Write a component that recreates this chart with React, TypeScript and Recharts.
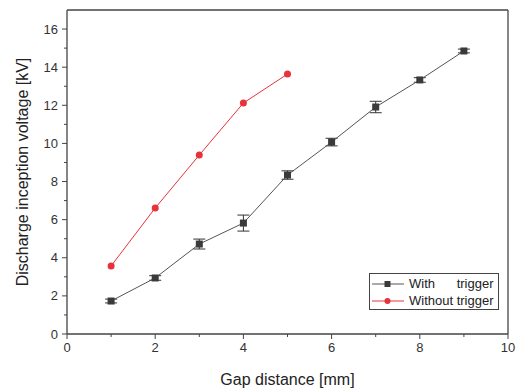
import { ErrorBar, Line, LineChart, XAxis, YAxis } from 'recharts'

const gapWith = [1, 2, 3, 4, 5, 6, 7, 8, 9]
const voltageWith = [1.73, 2.94, 4.72, 5.82, 8.34, 10.07, 11.91, 13.33, 14.85]
const errorWith = [0.1, 0.12, 0.26, 0.42, 0.22, 0.2, 0.3, 0.12, 0.1]
const gapWithout = [1, 2, 3, 4, 5]
const voltageWithout = [3.57, 6.61, 9.39, 12.12, 13.64]
const xTicks = [0, 1, 2, 3, 4, 5, 6, 7, 8, 9, 10]
const yTicks = [0, 1, 2, 3, 4, 5, 6, 7, 8, 9, 10, 11, 12, 13, 14, 15, 16]

const withData = gapWith.map((g, i) => ({ gap: g, v: voltageWith[i], err: errorWith[i] }))
const withoutData = gapWithout.map((g, i) => ({ gap: g, v: voltageWithout[i] }))

const FONT = '"Liberation Sans", Arial, sans-serif'
const AXIS = '#444'
const RED = '#e8323c'

function BottomTick({ x, y, payload }: any) {
  const major = payload.value % 2 === 0
  return (
    <g>
      <line x1={x} x2={x} y1={y} y2={y + (major ? 5 : 3)} stroke={AXIS} />
      {major && (
        <text x={x} y={y + 18} textAnchor="middle" fontSize={13} fill="#333" fontFamily={FONT}>
          {payload.value}
        </text>
      )}
    </g>
  )
}

function LeftTick({ x, y, payload }: any) {
  const major = payload.value % 2 === 0
  return (
    <g>
      <line x1={x - (major ? 5 : 3)} x2={x} y1={y} y2={y} stroke={AXIS} />
      {major && (
        <text x={x - 9} y={y + 4.5} textAnchor="end" fontSize={13} fill="#333" fontFamily={FONT}>
          {payload.value}
        </text>
      )}
    </g>
  )
}

function TopTick({ x, y }: any) {
  return <line x1={x} x2={x} y1={y} y2={y + 3} stroke={AXIS} />
}

function RightTick({ x, y }: any) {
  return <line x1={x - 3} x2={x + 1} y1={y} y2={y} stroke={AXIS} />
}

function YTitle({ viewBox }: any) {
  const cy = viewBox.y + viewBox.height / 2
  return (
    <text
      x={22}
      y={cy}
      transform={`rotate(-90 22 ${cy})`}
      textAnchor="middle"
      dominantBaseline="central"
      fontSize={16}
      fill="#222"
      fontFamily={FONT}
    >
      Discharge inception voltage [kV]
    </text>
  )
}

function SquareDot({ cx, cy, index }: any) {
  return <rect key={index} x={cx - 3.5} y={cy - 3.5} width={7} height={7} fill="#3a3a3a" />
}

function CircleDot({ cx, cy, index }: any) {
  return <circle key={index} cx={cx} cy={cy} r={3.5} fill={RED} />
}

function LegendBox() {
  const row = (label: string, color: string, square: boolean) => (
    <div style={{ display: 'flex', alignItems: 'center', height: 17 }}>
      <svg width={36} height={14}>
        <line x1={2} x2={34} y1={7} y2={7} stroke={color} />
        {square ? <rect x={14.5} y={4} width={6} height={6} fill="#3a3a3a" /> : <circle cx={17.5} cy={7} r={3} fill={RED} />}
      </svg>
      <span style={{ whiteSpace: 'pre', marginLeft: 3 }}>{label}</span>
    </div>
  )
  return (
    <div
      style={{
        position: 'absolute',
        left: 369,
        top: 273,
        width: 130,
        height: 37,
        border: `1px solid ${AXIS}`,
        background: '#fff',
        fontFamily: FONT,
        fontSize: 13,
        color: '#222',
        padding: '1px 0',
        boxSizing: 'border-box',
      }}
    >
      {row('With      trigger', '#555', true)}
      {row('Without trigger', RED, false)}
    </div>
  )
}

export default function App() {
  return (
    <div style={{ position: 'absolute', left: 0, top: 0, width: 518, height: 389, background: '#fff' }}>
      <LineChart width={518} height={389} margin={{ top: 9, right: 9, left: 0, bottom: 0 }}>
        <XAxis
          xAxisId="bottom"
          dataKey="gap"
          type="number"
          domain={[0, 10]}
          ticks={xTicks}
          interval={0}
          height={55}
          tickSize={0}
          tickMargin={0}
          tick={<BottomTick />}
          stroke={AXIS}
          strokeWidth={1.3}
          allowDuplicatedCategory={false}
          label={{ value: 'Gap distance [mm]', position: 'insideBottom', offset: 4, fontSize: 16, fill: '#222', fontFamily: FONT }}
        />
        <XAxis
          xAxisId="top"
          orientation="top"
          dataKey="gap"
          type="number"
          domain={[0, 10]}
          ticks={xTicks}
          interval={0}
          height={1}
          tickSize={0}
          tickMargin={0}
          tick={<TopTick />}
          stroke={AXIS}
          strokeWidth={1.3}
        />
        <YAxis
          yAxisId="left"
          type="number"
          domain={[0, 17]}
          ticks={yTicks}
          interval={0}
          width={67}
          tickSize={0}
          tickMargin={0}
          tick={<LeftTick />}
          stroke={AXIS}
          strokeWidth={1.3}
          label={<YTitle />}
        />
        <YAxis
          yAxisId="right"
          orientation="right"
          type="number"
          domain={[0, 17]}
          ticks={yTicks}
          interval={0}
          width={1}
          tickSize={0}
          tickMargin={0}
          tick={<RightTick />}
          stroke={AXIS}
          strokeWidth={1.3}
        />
        <Line
          data={withoutData}
          xAxisId="bottom"
          yAxisId="left"
          dataKey="v"
          stroke={RED}
          strokeWidth={1}
          dot={CircleDot}
          activeDot={false}
          isAnimationActive={false}
        />
        <Line
          data={withData}
          xAxisId="bottom"
          yAxisId="left"
          dataKey="v"
          stroke="#555"
          strokeWidth={1}
          dot={SquareDot}
          activeDot={false}
          isAnimationActive={false}
        >
          <ErrorBar dataKey="err" width={6} stroke="#333" strokeWidth={1} direction="y" />
        </Line>
      </LineChart>
      <LegendBox />
    </div>
  )
}
